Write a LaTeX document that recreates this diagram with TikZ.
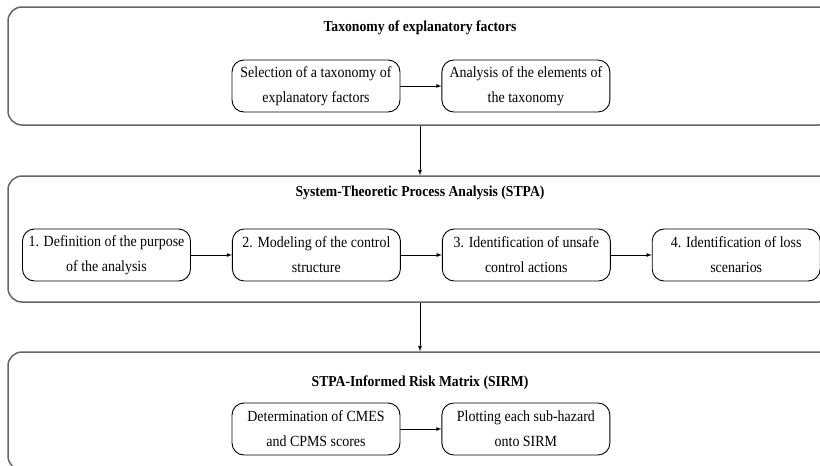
\documentclass[tikz,border=0pt]{standalone}
\usepackage{fontspec}
\setmainfont{Liberation Serif}[FakeStretch=0.9]
\usetikzlibrary{arrows,positioning}

\begin{document}
\begin{tikzpicture}[x=1pt, y=-1pt, >=latex,
  outer/.style={rectangle, rounded corners=14pt, draw=black!60, line width=1.5pt, minimum width=824pt},
  block/.style={rectangle, rounded corners=12pt, draw, line width=0.9pt, minimum width=168pt, minimum height=52pt, align=center, font=\fontsize{15.5}{25}\selectfont},
  heading/.style={font=\bfseries\fontsize{15.2}{17}\selectfont},
  node distance=41pt
  ]
  \useasboundingbox (0,0) rectangle (820,466);
  \clip (0,0) rectangle (820,466);

  \node[outer, minimum height=118pt] (A) at (420,66) {};
  \node[outer, minimum height=126pt] (B) at (420,239) {};
  \node[outer, minimum height=118pt] (C) at (420,411) {};

  \node[heading] (At) at (420,28) {Taxonomy of explanatory factors};
  \node[heading] (Bt) at (420,193) {System-Theoretic Process Analysis (STPA)};
  \node[heading] (Ct) at (420,383) {STPA-Informed Risk Matrix (SIRM)};

  \node[block] (A1) at (316,86) {Selection of a taxonomy of\\explanatory factors};
  \node[block, right=of A1] (A2) {Analysis of the elements of\\the taxonomy};

  \node[block] (B1) at (106.5,255) {1. Definition of the purpose\\of the analysis};
  \node[block, right=of B1] (B2) {2. Modeling of the control\\structure};
  \node[block, right=of B2] (B3) {3. Identification of unsafe\\control actions};
  \node[block, right=of B3] (B4) {4. Identification of loss\\scenarios};

  \node[block] (C1) at (316,429) {Determination of CMES\\and CPMS scores};
  \node[block, right=of C1] (C2) {Plotting each sub-hazard\\onto SIRM};

  \draw[thick,->] (A1) -- (A2);
  \draw[thick,->] (B1) -- (B2);
  \draw[thick,->] (B2) -- (B3);
  \draw[thick,->] (B3) -- (B4);
  \draw[thick,->] (C1) -- (C2);

  \draw[thick,->] (A) -- (B);
  \draw[thick,->] (B) -- (C);
\end{tikzpicture}
\end{document}
